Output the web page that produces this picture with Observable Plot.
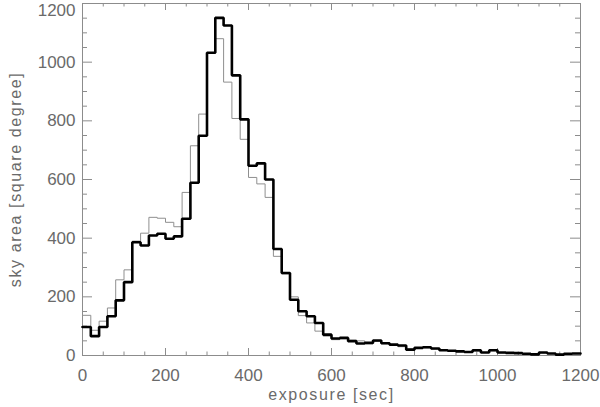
<!DOCTYPE html>
<html><head><meta charset="utf-8">
<script src="https://cdn.jsdelivr.net/npm/d3@7"></script>
<script src="https://cdn.jsdelivr.net/npm/@observablehq/plot@0.6"></script>
<style>html,body{margin:0;padding:0;background:#fff} svg{display:block;overflow:visible}</style>
</head><body><div id="chart"></div>
<script>
// exposure bins (start of each 20 s bin)
const binStart = [0,20,40,60,80,100,120,140,160,180,200,220,240,260,280,300,320,340,360,380,
  400,420,440,460,480,500,520,540,560,580,600,620,640,660,680,700,720,740,760,780,
  800,820,840,860,880,900,920,940,960,980,1000,1020,1040,1060,1080,1100,1120,1140,1160,1180];
const binWidth = 20;
// thick black histogram
const skyAreaBlack = [97,66,97,134,188,250,386,375,409,415,398,406,466,589,749,1032,1151,1125,955,805,
  647,655,600,363,281,190,151,134,111,71,58,60,49,41,43,51,42,37,34,20,
  26,28,24,18,16,14,12,18,10,18,10,9,8,6,4,10,7,3,6,7];
// thin grey histogram
const skyAreaGray = [137,86,117,162,258,292,390,417,471,468,454,439,556,715,823,1030,1080,932,808,737,
  607,585,539,338,278,200,136,111,83,66,54,57,52,50,40,48,40,36,30,22,
  25,26,22,17,14,13,12,15,10,16,9,8,7,6,5,9,6,4,5,6];
const xMajorTicks = [0,200,400,600,800,1000,1200];
const xMinorTicks = [50,100,150,250,300,350,450,500,550,650,700,750,850,900,950,1050,1100,1150];
const yMajorTicks = [0,200,400,600,800,1000,1200];
const yMinorTicks = [50,100,150,250,300,350,450,500,550,650,700,750,850,900,950,1050,1100,1150];
const xTitle = "exposure [sec]";
const yTitle = "sky area [square degree]";

function steps(values) {
  const pts = binStart.map((x, i) => ({x, y: values[i]}));
  pts.push({x: binStart[binStart.length - 1] + binWidth, y: values[values.length - 1]});
  return pts;
}

const W = 600, H = 407, mL = 82, mR = 20, mT = 3, mB = 52;
const pw = W - mL - mR, ph = H - mT - mB;
const frameColor = "#8c8c8c", textColor = "#6a6a6a";
const font = "'Liberation Sans', Arial, Helvetica, sans-serif";
const fmt = d => String(d);

const chart = Plot.plot({
  width: W, height: H,
  marginLeft: mL, marginRight: mR, marginTop: mT, marginBottom: mB,
  x: {domain: [0, 1200]},
  y: {domain: [0, 1200]},
  style: {fontFamily: font, fontSize: "17px", color: textColor, background: "#fff", overflow: "visible"},
  marks: [
    // inward ticks on all four sides
    Plot.tickX(xMajorTicks, {x: d => d, stroke: frameColor, insetTop: ph - 7}),
    Plot.tickX(xMajorTicks, {x: d => d, stroke: frameColor, insetBottom: ph - 7}),
    Plot.tickX(xMinorTicks, {x: d => d, stroke: frameColor, insetTop: ph - 3.5}),
    Plot.tickX(xMinorTicks, {x: d => d, stroke: frameColor, insetBottom: ph - 3.5}),
    Plot.tickY(yMajorTicks, {y: d => d, stroke: frameColor, insetRight: pw - 10}),
    Plot.tickY(yMajorTicks, {y: d => d, stroke: frameColor, insetLeft: pw - 10}),
    Plot.tickY(yMinorTicks, {y: d => d, stroke: frameColor, insetRight: pw - 5}),
    Plot.tickY(yMinorTicks, {y: d => d, stroke: frameColor, insetLeft: pw - 5}),
    Plot.frame({stroke: frameColor}),
    Plot.axisX(xMajorTicks, {tickSize: 0, tickPadding: 13, tickFormat: fmt, label: null, fontSize: 17, fill: textColor}),
    Plot.axisY(yMajorTicks.filter(d => d < 1200), {tickSize: 0, tickPadding: 7, tickFormat: fmt, label: null, fontSize: 17, fill: textColor}),
    Plot.axisY(yMajorTicks.filter(d => d >= 1200), {tickSize: 0, tickPadding: 7, dy: 7, tickFormat: fmt, label: null, fontSize: 17, fill: textColor}),
    Plot.line(steps(skyAreaGray), {x: "x", y: "y", curve: "step-after", stroke: "#8f8f8f", strokeWidth: 1}),
    Plot.line(steps(skyAreaBlack), {x: "x", y: "y", curve: "step-after", stroke: "#000", strokeWidth: 2.6, strokeLinejoin: "miter"}),
    Plot.text([xTitle], {text: d => d, frameAnchor: "bottom", textAnchor: "middle", dy: 44, fontSize: 16, fill: textColor}),
    Plot.text([yTitle], {text: d => d, frameAnchor: "left", textAnchor: "middle", dx: -67, rotate: -90, fontSize: 16, fill: textColor})
  ]
});
d3.select(chart).selectAll("text").filter(function() {
  return this.textContent === xTitle || this.textContent === yTitle;
}).attr("letter-spacing", "1.6px");
document.getElementById("chart").appendChild(chart);
</script>
</body></html>
